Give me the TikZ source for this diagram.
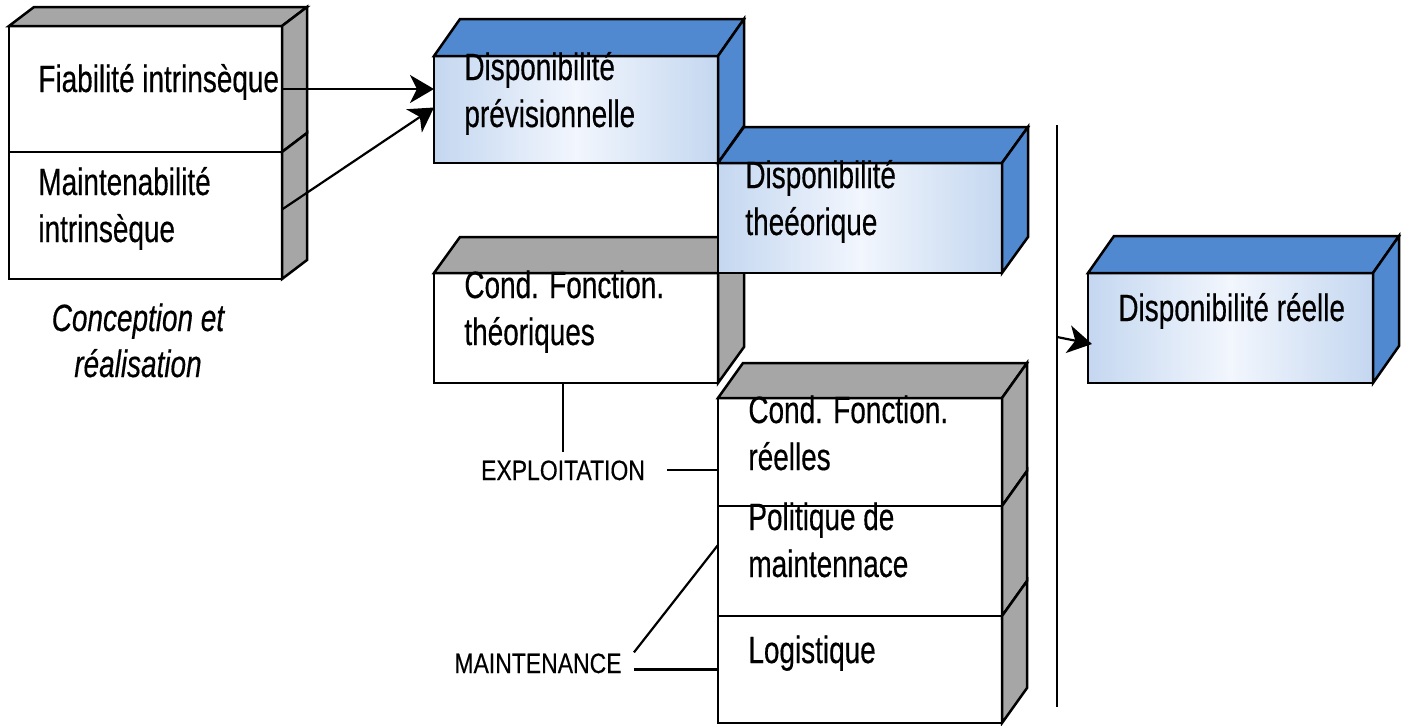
\documentclass[tikz,border=0pt]{standalone}
\usepackage{fontspec}
\setmainfont{Liberation Sans}[FakeStretch=0.735, FakeBold=0.4]
\newfontfamily\capsfont{Liberation Sans}[FakeStretch=0.82, FakeBold=0.3]
\usetikzlibrary{arrows.meta,calc,fit}

\definecolor{faceblue}{RGB}{80,137,208}
\definecolor{edgeblue}{RGB}{196,215,240}
\definecolor{glowblue}{RGB}{242,246,253}
\definecolor{facegray}{RGB}{166,166,166}

% top and side faces of a block whose front face is the node #1, receding by (#2,#3)
\newcommand\topface[4]{\filldraw[edge, fill=#4] (#1.north west) -- ++(#2,#3) -- ($(#1.north east)+(#2,#3)$) -- (#1.north east) -- cycle;}
\newcommand\sideface[4]{\filldraw[edge, fill=#4] (#1.north east) -- ++(#2,#3) -- ($(#1.south east)+(#2,#3)$) -- (#1.south east) -- cycle;}
% two-line labels, left aligned or centred, baseline on the first line
\newcommand\leftlines[2]{\vtop{\baselineskip=23.5pt\halign{##\hfil\cr#1\cr#2\cr}}}
\newcommand\midlines[2]{\vtop{\baselineskip=23pt\halign{\hfil##\hfil\cr#1\cr#2\cr}}}

\tikzset{
  edge/.style={line width=1.25pt, line join=miter},
  frontwhite/.style={edge, draw, fill=white, inner sep=0pt, outer sep=0pt},
  frontblue/.style={edge, draw, left color=edgeblue, right color=edgeblue, middle color=glowblue, inner sep=0pt, outer sep=0pt},
  boxtext/.style={anchor=base west, inner sep=0pt, font=\fontsize{19}{23.5}\selectfont},
  caption/.style={anchor=base, inner sep=0pt, font=\fontsize{19}{23}\selectfont\itshape},
  tag/.style={anchor=base, font=\capsfont\fontsize{14}{16}\selectfont, inner xsep=11pt, inner ysep=4pt},
  link/.style={line width=1.1pt},
  arrowlink/.style={link, -{Stealth[length=12pt,width=14pt,inset=3.5pt]}},
}

\begin{document}
\begin{tikzpicture}[x=0.5pt, y=-0.5pt]
\useasboundingbox (0,0) rectangle (1405,725);

% design block: intrinsic reliability and maintainability
\node[frontwhite, fit={(9,26) (282,152)}] (fiab) {};
\node[frontwhite, fit={(9,152) (282,279)}] (maint) {};
\topface{fiab}{25}{-19}{facegray}
\sideface{fiab}{25}{-19}{facegray}
\sideface{maint}{25}{-19}{facegray}

% forecast availability
\node[frontblue, fit={(434,56) (718,163)}] (dprev) {};
\topface{dprev}{26}{-37}{faceblue}
\sideface{dprev}{26}{-37}{faceblue}

% theoretical operating conditions
\node[frontwhite, fit={(434,273) (718,383)}] (cft) {};
\topface{cft}{26}{-36}{facegray}
\sideface{cft}{26}{-36}{facegray}

% theoretical availability
\node[frontblue, fit={(718,163) (1002,273)}] (dtheo) {};
\topface{dtheo}{26}{-36}{faceblue}
\sideface{dtheo}{26}{-36}{faceblue}

% operation and maintenance block
\node[frontwhite, fit={(718,398) (1002,506)}] (cfr) {};
\node[frontwhite, fit={(718,506) (1002,616)}] (pol) {};
\node[frontwhite, fit={(718,616) (1002,723)}] (logi) {};
\topface{cfr}{25}{-35}{facegray}
\sideface{cfr}{25}{-35}{facegray}
\sideface{pol}{25}{-35}{facegray}
\sideface{logi}{25}{-35}{facegray}

% actual availability
\node[frontblue, fit={(1088,273) (1373,383)}] (dreel) {};
\topface{dreel}{26}{-37}{faceblue}
\sideface{dreel}{26}{-37}{faceblue}

% block texts
\node[boxtext] (fiab-t) at (38,92) {Fiabilité intrinsèque};
\node[boxtext] (maint-t) at (38,195) {\leftlines{Maintenabilité}{intrinsèque}};
\node[boxtext] (dprev-t) at (464,80) {\leftlines{Disponibilité}{prévisionnelle}};
\node[boxtext] (dtheo-t) at (745,188) {\leftlines{Disponibilité}{theéorique}};
\node[boxtext] (cft-t) at (464,298) {\leftlines{Cond. Fonction.}{théoriques}};
\node[boxtext] (cfr-t) at (748,423) {\leftlines{Cond. Fonction.}{réelles}};
\node[boxtext] (pol-t) at (748,530) {\leftlines{Politique de}{maintennace}};
\node[boxtext] (logi-t) at (748,663) {Logistique};
\node[boxtext] (dreel-t) at (1118,321) {Disponibilité réelle};
\node[caption] (concep) at (138,331) {\midlines{Conception et}{réalisation}};

% phase tags
\node[tag] (expl) at (563,480) {EXPLOITATION};
\node[tag, inner xsep=6pt] (mnt) at (538,673) {MAINTENANCE};

% separator before the actual availability
\coordinate (sep-top) at (1057,125);
\coordinate (sep-bot) at (1057,707);
\coordinate (sep-out) at (1057,337);
\draw[link] (sep-top) -- (sep-bot);

% connectors
\draw[arrowlink] (fiab.east) -- (fiab.east -| dprev.west);
\draw[arrowlink] ([yshift=3pt]maint.east) -- ([yshift=1pt]dprev.west);
\draw[arrowlink] (sep-out) -- ([yshift=-8pt,xshift=2pt]dreel.west);
\draw[link] (expl.north |- cft.south) -- (expl.north);
\draw[link] (expl.east) -- (expl.east -| cfr.west);
\draw[link] ([yshift=5.5pt]mnt.east) -- ([yshift=8pt]pol.west);
\draw[link] (logi.west -| mnt.east) -- (logi.west);
\end{tikzpicture}
\end{document}
